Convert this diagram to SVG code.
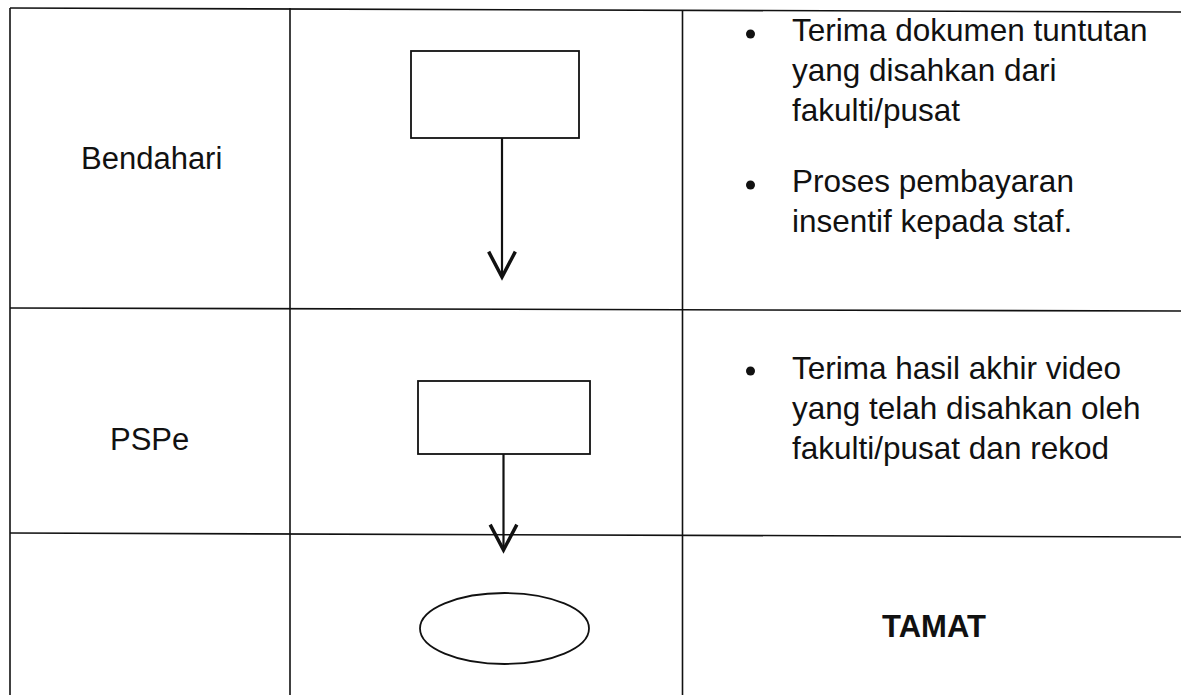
<svg xmlns="http://www.w3.org/2000/svg" width="1181" height="695" viewBox="0 0 1181 695">
  <style>
    .grid { stroke: #111; stroke-width: 1.6; fill: none; }
    .box { fill: #fff; stroke: #111; stroke-width: 1.8; }
    .conn { stroke: #111; stroke-width: 2.2; fill: none; }
    .lbl { font-family: "Liberation Sans", Arial, sans-serif; font-size: 31px; fill: #111; }
    .desc { font-family: "Liberation Sans", Arial, sans-serif; font-size: 31.5px; fill: #111; }
    .bold { font-family: "Liberation Sans", Arial, sans-serif; font-size: 31px; font-weight: bold; fill: #111; }
    .bullet { fill: #111; }
  </style>
  <defs>
    <marker id="arr" markerUnits="userSpaceOnUse" markerWidth="40" markerHeight="40" viewBox="-25 -15 30 30" refX="0" refY="0" orient="auto" overflow="visible">
      <path d="M-19,-10 L0,0 L-19,10" fill="none" stroke="#111" stroke-width="2.6"/>
    </marker>
  </defs>
  <rect width="1181" height="695" fill="#fff"/>

  <g id="table">
    <line class="grid" x1="10" y1="8" x2="1181" y2="12"/>
    <line class="grid" x1="10" y1="8" x2="10" y2="695"/>
    <line class="grid" x1="290" y1="8" x2="290" y2="695"/>
    <line class="grid" x1="682.5" y1="11" x2="682.5" y2="695"/>
    <line class="grid" x1="10" y1="308" x2="1181" y2="311"/>
    <line class="grid" x1="10" y1="533" x2="1181" y2="537"/>
  </g>

  <g id="lane-bendahari">
    <text class="lbl" x="81" y="169">Bendahari</text>
  </g>
  <g id="lane-pspe">
    <text class="lbl" x="110" y="450">PSPe</text>
  </g>

  <g id="node-bendahari">
    <rect class="box" x="411" y="51" width="168" height="87"/>
  </g>
  <g id="node-pspe">
    <rect class="box" x="418" y="381" width="172" height="73"/>
  </g>
  <g id="node-tamat">
    <ellipse class="box" cx="504.5" cy="628.5" rx="84.5" ry="35.5"/>
  </g>

  <g id="connectors">
    <line class="conn" x1="502" y1="138" x2="502" y2="277" marker-end="url(#arr)"/>
    <line class="conn" x1="503.5" y1="454" x2="503.5" y2="550" marker-end="url(#arr)"/>
  </g>

  <g id="desc-bendahari">
    <circle class="bullet" cx="750.5" cy="34" r="4.5"/>
    <text class="desc" x="792" y="41">Terima dokumen tuntutan</text>
    <text class="desc" x="792" y="81">yang disahkan dari</text>
    <text class="desc" x="792" y="121">fakulti/pusat</text>
    <circle class="bullet" cx="750.5" cy="185" r="4.5"/>
    <text class="desc" x="792" y="192">Proses pembayaran</text>
    <text class="desc" x="792" y="232">insentif kepada staf.</text>
  </g>

  <g id="desc-pspe">
    <circle class="bullet" cx="750.5" cy="371" r="4.5"/>
    <text class="desc" x="792" y="379">Terima hasil akhir video</text>
    <text class="desc" x="792" y="419">yang telah disahkan oleh</text>
    <text class="desc" x="792" y="459">fakulti/pusat dan rekod</text>
  </g>

  <g id="desc-tamat">
    <text class="bold" x="934" y="637" text-anchor="middle">TAMAT</text>
  </g>
</svg>
